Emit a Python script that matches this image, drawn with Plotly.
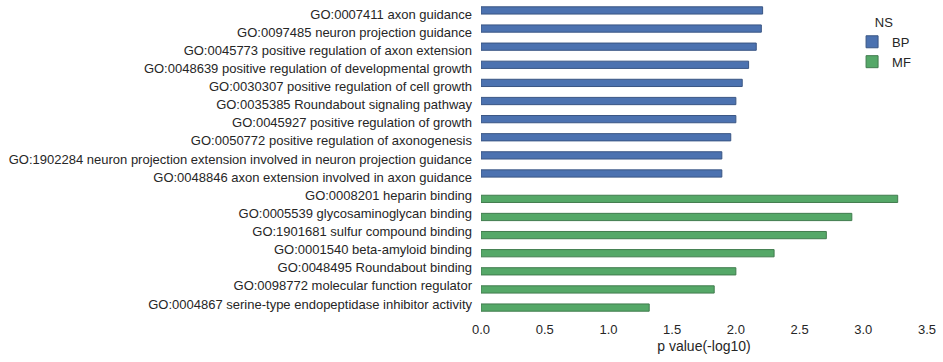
import plotly.graph_objects as go

bp_terms = [
    "GO:0007411 axon guidance",
    "GO:0097485 neuron projection guidance",
    "GO:0045773 positive regulation of axon extension",
    "GO:0048639 positive regulation of developmental growth",
    "GO:0030307 positive regulation of cell growth",
    "GO:0035385 Roundabout signaling pathway",
    "GO:0045927 positive regulation of growth",
    "GO:0050772 positive regulation of axonogenesis",
    "GO:1902284 neuron projection extension involved in neuron projection guidance",
    "GO:0048846 axon extension involved in axon guidance",
]
bp_values = [2.21, 2.20, 2.16, 2.10, 2.05, 2.00, 2.00, 1.96, 1.89, 1.89]

mf_terms = [
    "GO:0008201 heparin binding",
    "GO:0005539 glycosaminoglycan binding",
    "GO:1901681 sulfur compound binding",
    "GO:0001540 beta-amyloid binding",
    "GO:0048495 Roundabout binding",
    "GO:0098772 molecular function regulator",
    "GO:0004867 serine-type endopeptidase inhibitor activity",
]
mf_values = [3.27, 2.91, 2.71, 2.30, 2.00, 1.83, 1.32]

x_ticks = [0.0, 0.5, 1.0, 1.5, 2.0, 2.5, 3.0, 3.5]
all_terms = bp_terms + mf_terms

fig = go.Figure()
fig.add_trace(go.Bar(
    y=bp_terms, x=bp_values, orientation="h", name="BP",
    width=0.4, offset=-0.4,
    marker=dict(color="#4C72B0", line=dict(color="#3a5684", width=1)),
))
fig.add_trace(go.Bar(
    y=mf_terms, x=mf_values, orientation="h", name="MF",
    width=0.4, offset=0.0,
    marker=dict(color="#55A868", line=dict(color="#417c4e", width=1)),
))

fig.update_layout(
    width=943, height=362,
    margin=dict(l=481, r=16, t=5, b=49),
    paper_bgcolor="white", plot_bgcolor="white",
    barmode="overlay",
    font=dict(family="Liberation Sans, Arial, sans-serif", size=13, color="#262626"),
    showlegend=True,
    legend=dict(
        title=dict(text="NS", side="top center", font=dict(size=13)),
        x=0.832, y=0.984, xanchor="left", yanchor="top",
        bgcolor="rgba(0,0,0,0)", font=dict(size=13),
        tracegroupgap=0,
    ),
    xaxis=dict(
        range=[0, 3.5], tickvals=x_ticks, ticktext=[f"{v:.1f}" for v in x_ticks],
        showgrid=False, zeroline=False, showline=False, automargin=False,
        title=dict(text="p value(-log10)", font=dict(size=14), standoff=5),
        tickfont=dict(size=13), ticks="", ticklabelstandoff=7,
    ),
    yaxis=dict(
        categoryorder="array", categoryarray=all_terms, autorange="reversed",
        showgrid=False, zeroline=False, showline=False, automargin=False,
        tickfont=dict(size=13), ticks="", ticklabelstandoff=8,
    ),
)

fig.write_html(
    "out.html",
    config={"displayModeBar": False},
    post_script="document.body.style.margin='0';",
)
